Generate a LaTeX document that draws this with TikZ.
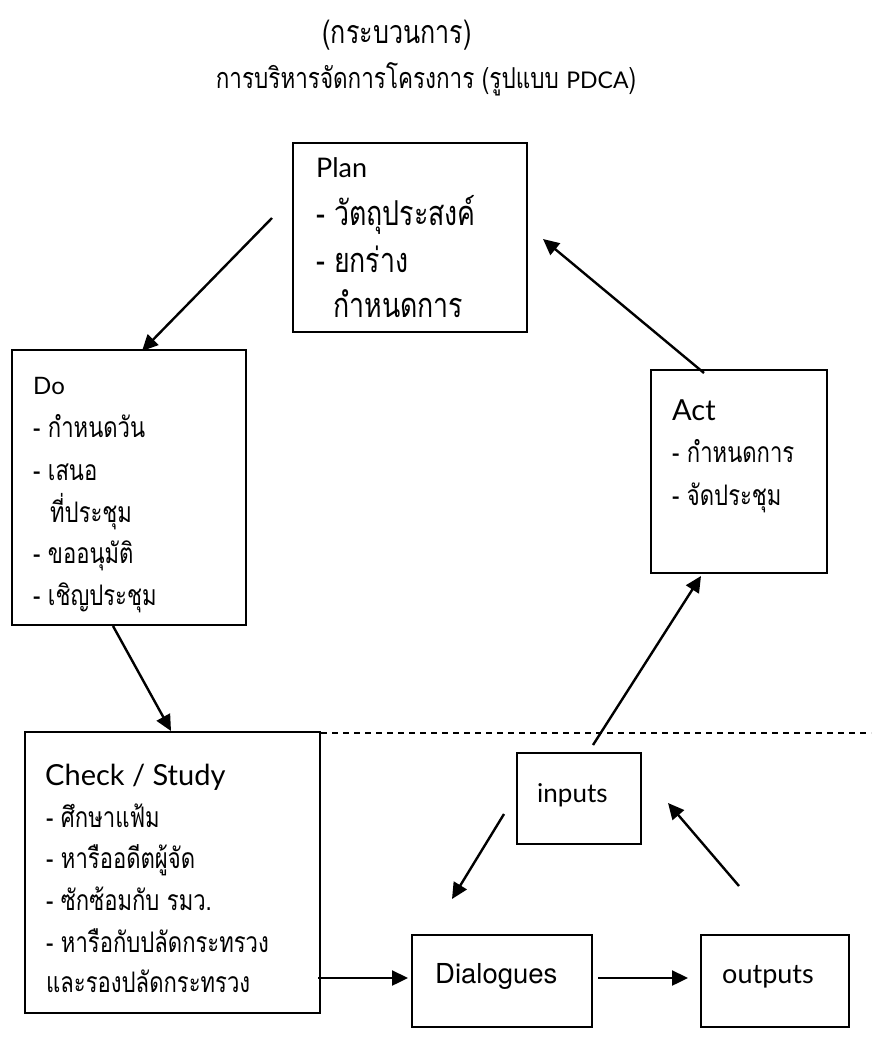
\documentclass[tikz,border=0pt]{standalone}
\usepackage{fontspec}
\usetikzlibrary{arrows.meta}
\newfontfamily\thaif[Script=Thai,FakeStretch=0.78]{Loma}
\newfontfamily\latf{Lato}
\newfontfamily\helvf{TeX Gyre Heros}
\tikzset{
  box/.style={draw, line width=1.6pt, inner sep=0pt},
  arr/.style={line width=2.4pt, -{Triangle[length=16pt,width=15pt]}},
  txt/.style={anchor=base west, inner sep=0pt},
  thbig/.style={txt, font=\thaif\fontsize{34.3}{34.3}\selectfont},
  thsm/.style={txt, font=\thaif\fontsize{28.3}{28.3}\selectfont},
  head/.style={txt, font=\latf\fontsize{27}{27}\selectfont},
  ttl/.style={anchor=base, inner sep=0pt},
}
\begin{document}
\begin{tikzpicture}[x=1pt,y=-1pt]
\useasboundingbox (0,0) rectangle (871,1053);
% title
\node[ttl, font=\thaif\fontsize{32.2}{32.2}\selectfont] (t1) at (397,43) {(กระบวนการ)};
\node[ttl, font=\thaif\fontsize{28.8}{28.8}\selectfont] (t2) at (426,88) {การบริหารจัดการโครงการ (รูปแบบ {\latf\fontsize{23}{23}\selectfont PDCA})};
% boxes
\node[box, minimum width=234pt, minimum height=189pt] (plan) at (410,237.5) {};
\node[box, minimum width=234pt, minimum height=275pt] (do) at (129,487.5) {};
\node[box, minimum width=176pt, minimum height=203pt] (act) at (739,471.5) {};
\node[box, minimum width=295pt, minimum height=281pt] (check) at (172.5,872.5) {};
\node[box, minimum width=124pt, minimum height=91pt] (inputs) at (579,798.5) {};
\node[box, minimum width=180pt, minimum height=92pt] (dial) at (502,981) {};
\node[box, minimum width=148pt, minimum height=92pt] (outp) at (775,981) {};
% plan text
\node[head] (p0) at (316,177) {Plan};
\node[thbig] (p1) at (316,225) {- วัตถุประสงค์};
\node[thbig] (p2) at (316,272) {- ยกร่าง};
\node[thbig] (p3) at (333,317) {กำหนดการ};
% do text
\node[head, font=\latf\fontsize{24}{24}\selectfont] (d0) at (33,394) {Do};
\node[thsm] (d1) at (33,437) {- กำหนดวัน};
\node[thsm] (d2) at (33,480) {- เสนอ};
\node[thsm] (d3) at (50,522) {ที่ประชุม};
\node[thsm] (d4) at (33,563) {- ขออนุมัติ};
\node[thsm] (d5) at (33,605) {- เชิญประชุม};
% act text
\node[head, font=\latf\fontsize{29}{29}\selectfont] (a0) at (672,420) {Act};
\node[thsm] (a1) at (672,462) {- กำหนดการ};
\node[thsm] (a2) at (672,505) {- จัดประชุม};
% check text
\node[head, font=\latf\fontsize{29}{29}\selectfont] (c0) at (45,785) {Check / Study};
\node[thsm] (c1) at (46,827) {- ศึกษาแฟ้ม};
\node[thsm] (c2) at (46,868) {- หารืออดีตผู้จัด};
\node[thsm] (c3) at (46,910) {- ซักซ้อมกับ รมว.};
\node[thsm] (c4) at (46,952) {- หารือกับปลัดกระทรวง};
\node[thsm] (c5) at (46,992) {และรองปลัดกระทรวง};
% small boxes text
\node[head, font=\latf\fontsize{26}{26}\selectfont] (it) at (537,802) {inputs};
\node[txt, font=\helvf\fontsize{27.5}{27.5}\selectfont] (dt) at (435,983) {Dialogues};
\node[head, font=\latf\fontsize{27}{27}\selectfont] (ot) at (722,983) {outputs};
% connector ends
\coordinate (a1s) at (272,218); \coordinate (a1e) at (142,351);
\coordinate (a2s) at (704,373); \coordinate (a2e) at (543,239);
\coordinate (a3s) at (113,626); \coordinate (a3e) at (171,731);
\coordinate (a4s) at (593,745); \coordinate (a4e) at (701,576);
\coordinate (a5s) at (504,814); \coordinate (a5e) at (452,899);
\coordinate (a6s) at (739,886); \coordinate (a6e) at (668,803);
\coordinate (a7s) at (318,978); \coordinate (a7e) at (408,978);
\coordinate (a8s) at (598,978); \coordinate (a8e) at (688,978);
\coordinate (dl1) at (321,733); \coordinate (dl2) at (871,733);
% connectors
\draw[arr] (a1s) -- (a1e);
\draw[arr] (a2s) -- (a2e);
\draw[arr] (a3s) -- (a3e);
\draw[arr] (a4s) -- (a4e);
\draw[arr] (a5s) -- (a5e);
\draw[arr] (a6s) -- (a6e);
\draw[arr] (a7s) -- (a7e);
\draw[arr] (a8s) -- (a8e);
\draw[line width=1.5pt, dash pattern=on 6pt off 5pt] (dl1) -- (dl2);
\end{tikzpicture}
\end{document}
